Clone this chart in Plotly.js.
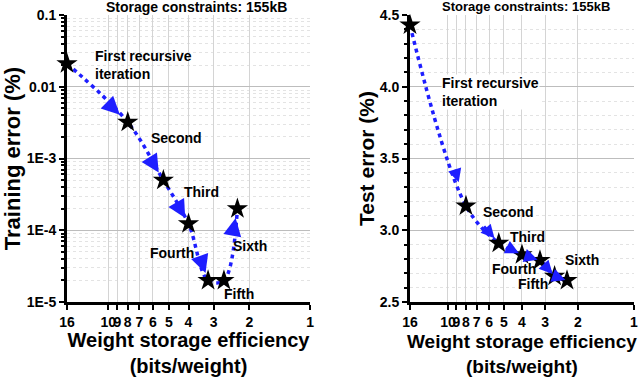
<!DOCTYPE html>
<html>
<head>
<meta charset="utf-8">
<script src="https://cdn.plot.ly/plotly-3.0.1.min.js"></script>
<style>
  html, body { margin: 0; padding: 0; background: #fff; }
  #chart { width: 640px; height: 377px; }
</style>
</head>
<body>
<div id="chart"></div>
<script>
// bits per weight after each recursive iteration (16 = starting point)
const bitsPerWeight = [16, 8, 5.33, 4, 3.2, 2.67, 2.29];
const trainErr = [0.021, 0.0032, 0.0005, 0.000123, 0.00002, 0.00002, 0.0002];
const testErr = [4.43, 3.17, 2.91, 2.83, 2.79, 2.68, 2.65];

const xTicks = [16, 10, 9, 8, 7, 6, 5, 4, 3, 2, 1];
const trainTicks = [0.1, 0.01, 0.001, 0.0001, 0.00001];
const trainTickText = ['0.1', '0.01', '1E-3', '1E-4', '1E-5'];
const testTicks = [2.5, 3.0, 3.5, 4.0, 4.5];
const testTickText = ['2.5', '3.0', '3.5', '4.0', '4.5'];

// labels: [text, log10(x), y]  (left y in log10 too)
const trainLabels = [
  ['First recursive<br>iteration', 1.07, -1.69],
  ['Second', 0.793, -2.714],
  ['Third', 0.629, -3.467],
  ['Fourth', 0.798, -4.317],
  ['Fifth', 0.431, -4.889],
  ['Sixth', 0.387, -4.219]
];
const testLabels = [
  ['First recursive<br>iteration', 1.04, 3.962],
  ['Second', 0.819, 3.125],
  ['Third', 0.671, 2.951],
  ['Fourth', 0.771, 2.729],
  ['Fifth', 0.629, 2.625],
  ['Sixth', 0.375, 2.792]
];

const BLUE = '#1e1eff';
const FONT = 'Liberation Sans, Arial, sans-serif';

// minor gridlines for the log y axis: 2..9 in each decade
const logMinor = [];
for (let e = -5; e < -1; e++) {
  for (let k = 2; k <= 9; k++) logMinor.push(k * Math.pow(10, e));
}

const lineTrace = (ys, xa, ya) => ({
  x: bitsPerWeight,
  y: ys,
  xaxis: xa, yaxis: ya,
  type: 'scatter',
  mode: 'lines+markers',
  line: { color: BLUE, width: 3.5, dash: '4px,4px', shape: 'spline', smoothing: 1 },
  marker: { symbol: 'star', size: 16, color: 'black', line: { width: 0 } },
  cliponaxis: false,
  hoverinfo: 'x+y'
});

// short arrowheads along each segment, pointing to the next star
// tails: where the arrow shaft starts on each segment (fraction of segment)
function arrows(ys, xref, yref, yLog, skip, tails, size) {
  const out = [];
  for (let i = 0; i < bitsPerWeight.length - 1; i++) {
    if (skip.includes(i)) continue;
    const x0 = Math.log10(bitsPerWeight[i]), x1 = Math.log10(bitsPerWeight[i + 1]);
    const y0 = yLog ? Math.log10(ys[i]) : ys[i];
    const y1 = yLog ? Math.log10(ys[i + 1]) : ys[i + 1];
    const t1 = 0.87, t0 = tails[i];
    out.push({
      xref: xref, yref: yref, axref: xref, ayref: yref,
      x: x0 + t1 * (x1 - x0), y: y0 + t1 * (y1 - y0),
      ax: x0 + t0 * (x1 - x0), ay: y0 + t0 * (y1 - y0),
      text: '', font: { size: 1 }, borderpad: 0, borderwidth: 0,
      showarrow: true, arrowhead: 2, arrowsize: size,
      arrowwidth: 3, arrowcolor: BLUE, standoff: 0, startstandoff: 0
    });
  }
  return out;
}

const labelAnn = (l, xref, yref, bg) => ({
  xref: xref, yref: yref, x: l[1], y: l[2], text: l[0],
  showarrow: false, xanchor: 'left', yanchor: 'middle', align: 'left',
  bgcolor: bg || 'rgba(0,0,0,0)', borderpad: 0,
  font: { family: FONT, size: 14, weight: 'bold', color: 'black' }
});

const axisBase = {
  showline: true, linewidth: 3, linecolor: 'black',
  ticks: 'outside', ticklen: 5, tickwidth: 2, tickcolor: 'black',
  zeroline: false, mirror: false, tickangle: 0,
  tickfont: { family: FONT, size: 14, weight: 'bold', color: 'black' }
};

const xAxisCfg = (domain, anchor, titleSize) => ({
  ...axisBase,
  domain: domain, anchor: anchor,
  type: 'log', range: [Math.log10(16), 0],
  tickmode: 'array', tickvals: xTicks, ticktext: xTicks.map(String),
  gridcolor: '#d4d4d4', gridwidth: 1,
  title: {
    text: 'Weight storage efficiency<br>(bits/weight)', standoff: 8,
    font: { family: FONT, size: titleSize, weight: 'bold', color: 'black' }
  }
});

const annotations = [
  {
    xref: 'paper', yref: 'paper', x: 0.307, y: 1.028, xanchor: 'center', yanchor: 'middle',
    text: 'Storage constraints: 155kB', showarrow: false,
    font: { family: FONT, size: 14, weight: 'bold', color: 'black' }
  },
  {
    xref: 'paper', yref: 'paper', x: 0.822, y: 1.028, xanchor: 'center', yanchor: 'middle',
    text: 'Storage constraints: 155kB', showarrow: false,
    font: { family: FONT, size: 13, weight: 'bold', color: 'black' }
  },
  ...arrows(trainErr, 'x', 'y', true, [4], [0.7, 0.7, 0.7, 0.7, 0.7, 0.7], 1.2),
  ...arrows(testErr, 'x2', 'y2', false, [], [0.8, 0.55, 0.35, 0.35, 0.35, 0.35], 0.9),
  ...trainLabels.map(l => labelAnn(l, 'x', 'y')),
  ...testLabels.map((l, i) => labelAnn(l, 'x2', 'y2', i === 0 ? 'white' : null))
];

const layout = {
  width: 640, height: 377,
  margin: { l: 0, r: 0, t: 15, b: 75 },
  paper_bgcolor: 'white', plot_bgcolor: 'white',
  showlegend: false,
  xaxis: xAxisCfg([0.1047, 0.4844], 'y', 20),
  xaxis2: xAxisCfg([0.6406, 0.9905], 'y2', 19),
  yaxis: {
    ...axisBase,
    anchor: 'x', type: 'log', range: [-5, -1],
    tickmode: 'array', tickvals: trainTicks, ticktext: trainTickText,
    gridcolor: '#bdbdbd',
    minor: { tickmode: 'array', tickvals: logMinor, ticks: 'outside', ticklen: 3, tickwidth: 2,
             tickcolor: 'black', showgrid: true, gridcolor: '#e3e3e3', griddash: 'dot' },
    title: { text: 'Training error (%)', standoff: 2,
             font: { family: FONT, size: 22, weight: 'bold', color: 'black' } }
  },
  yaxis2: {
    ...axisBase,
    anchor: 'x2', range: [2.5, 4.5],
    tickmode: 'array', tickvals: testTicks, ticktext: testTickText,
    gridcolor: '#bdbdbd',
    minor: { dtick: 0.1, ticks: 'outside', ticklen: 3, tickwidth: 2,
             tickcolor: 'black', showgrid: true, gridcolor: '#e3e3e3', griddash: 'dot' },
    title: { text: 'Test error (%)', standoff: 0,
             font: { family: FONT, size: 21, weight: 'bold', color: 'black' } }
  },
  annotations: annotations
};

Plotly.newPlot('chart', [
  lineTrace(trainErr, 'x', 'y'),
  lineTrace(testErr, 'x2', 'y2')
], layout, { displayModeBar: false, staticPlot: true });
</script>
</body>
</html>
